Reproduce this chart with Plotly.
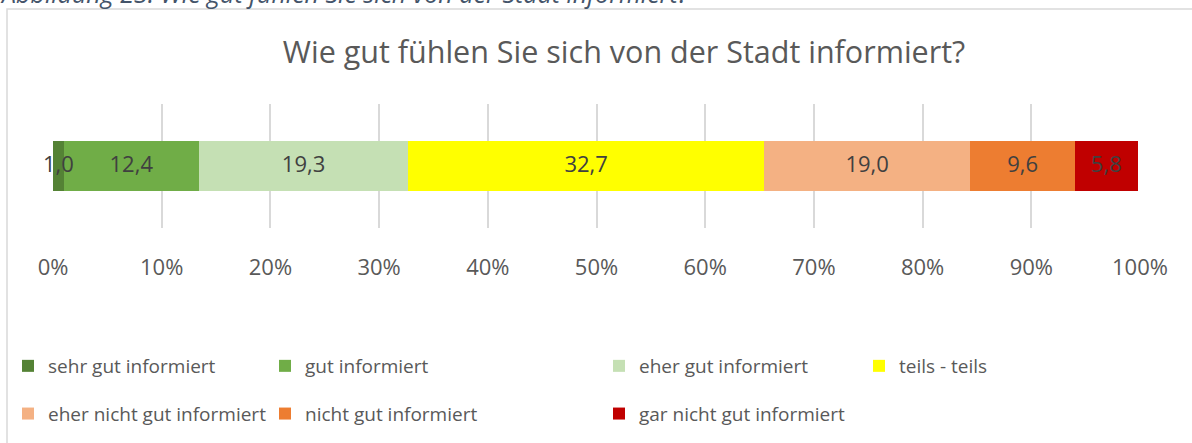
import numpy as np
import plotly.graph_objects as go

categories = ["sehr gut informiert", "gut informiert", "eher gut informiert", "teils - teils",
              "eher nicht gut informiert", "nicht gut informiert", "gar nicht gut informiert"]
values = [1.0, 12.4, 19.3, 32.7, 19.0, 9.6, 5.8]
colors = ["#548235", "#70AD47", "#C5E0B4", "#FFFF00", "#F4B183", "#ED7D31", "#C00000"]
legend_ids = ["legend", "legend2", "legend3", "legend4", "legend", "legend2", "legend3"]
tick_vals = [0, 10, 20, 30, 40, 50, 60, 70, 80, 90, 100]
tick_text = ["0%", "10%", "20%", "30%", "40%", "50%", "60%", "70%", "80%", "90%", "100%"]
title_text = "Wie gut fühlen Sie sich von der Stadt informiert?"
caption_text = "Abbildung 23: Wie gut fühlen Sie sich von der Stadt informiert?"

FONT = "Open Sans"
W, H = 1192, 443
ML, MR, MT, MB = 53, 52, 104, 215
PW = W - ML - MR
PH = H - MT - MB


def px_x(p):
    return (p - ML) / PW


def px_y(p):
    return (H - MB - p) / PH


fig = go.Figure()
for cat, val, col, lg in zip(categories, values, colors, legend_ids):
    fig.add_trace(go.Bar(
        x=[val], y=[""], orientation="h", name=cat,
        marker=dict(color=col, line=dict(width=0)),
        width=0.41, textposition="none",
        legend=lg, legendgroup=cat, hoverinfo="skip",
    ))

# segment labels, centred on each stacked segment
ends = np.cumsum(values)
centers = ends - np.array(values) / 2
fig.add_trace(go.Scatter(
    x=centers, y=[""] * len(values), mode="text",
    text=[f"{v:.1f}".replace(".", ",") for v in values],
    textposition="middle center", cliponaxis=False,
    textfont=dict(family=FONT, size=22, color="#404040"),
    showlegend=False, hoverinfo="skip",
))

legend_common = dict(orientation="v", xanchor="left", yanchor="top",
                     font=dict(family=FONT, size=19, color="#595959"),
                     bgcolor="rgba(0,0,0,0)", traceorder="grouped", tracegroupgap=20,
                     itemclick=False, itemdoubleclick=False)
ly = px_y(347)
fig.update_layout(
    width=W, height=H,
    margin=dict(l=ML, r=MR, t=MT, b=MB, autoexpand=False),
    paper_bgcolor="white", plot_bgcolor="white",
    barmode="stack", bargap=0,
    showlegend=True,
    legend=dict(x=px_x(8), y=ly, **legend_common),
    legend2=dict(x=px_x(265), y=ly, **legend_common),
    legend3=dict(x=px_x(599), y=ly, **legend_common),
    legend4=dict(x=px_x(859), y=ly, **legend_common),
    title=dict(text=title_text, x=624 / W, xref="container", xanchor="center",
               y=1 - 52 / H, yref="container", yanchor="middle",
               font=dict(family=FONT, size=30.5, color="#595959")),
    xaxis=dict(range=[0, 100], tickmode="array", tickvals=tick_vals, ticktext=tick_text,
               showgrid=True, gridcolor="#D9D9D9", gridwidth=1.5,
               zeroline=False, showline=False, ticks="",
               ticklabelstandoff=24,
               tickfont=dict(family=FONT, size=22, color="#595959")),
    yaxis=dict(range=[-0.5, 0.5], showticklabels=False, showgrid=False,
               zeroline=False, showline=False, fixedrange=True),
    shapes=[dict(type="rect", xref="paper", yref="paper",
                 x0=px_x(7), x1=px_x(1260), y0=px_y(480), y1=px_y(9),
                 line=dict(color="#D9D9D9", width=1.5), fillcolor="rgba(0,0,0,0)",
                 layer="below")],
    annotations=[dict(text=caption_text, xref="paper", yref="paper",
                      x=px_x(-2), y=px_y(-7), xanchor="left", yanchor="middle",
                      showarrow=False,
                      font=dict(family=FONT, size=25, color="#44546A", style="italic"))],
)

fig.write_html("out.html", config={"displayModeBar": False},
               post_script="document.body.style.margin='0';")
